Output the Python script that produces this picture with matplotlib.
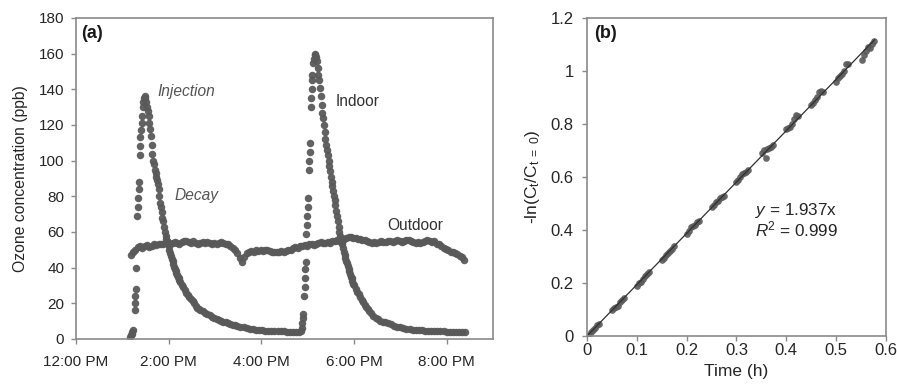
import numpy as np
import matplotlib
matplotlib.use("Agg")
import matplotlib.pyplot as plt
from matplotlib.ticker import FormatStrFormatter

plt.rcParams['font.family'] = ['Liberation Sans', 'DejaVu Sans']
plt.rcParams['mathtext.fontset'] = 'custom'
plt.rcParams['mathtext.rm'] = 'Liberation Sans'
plt.rcParams['mathtext.it'] = 'Liberation Sans:italic'

# ---------------- Panel (a) data: minutes after 12:00 PM, ozone (ppb) ----------------
indoor_min = [
    70, 71, 72, 73, 74, 76, 76.5, 77, 77.5, 78, 79.5, 80, 80.5, 81, 81.5,
    82.5, 83, 83.5, 84.5, 85, 85.5, 86.5, 87, 88, 89, 90,
    91, 92, 93, 94, 95, 96, 97, 98, 99, 100, 101, 102, 103, 104, 105, 106, 107, 108, 109, 110,
    111, 112, 113, 114, 115, 116, 117, 118, 119, 120, 121, 122, 123, 124, 125, 126, 127, 128,
    129, 130, 131, 132, 133, 134, 135, 137, 139, 141, 143, 145, 147, 149, 151, 153, 155, 157,
    159, 161, 164, 167, 170, 173, 176, 179, 182, 185, 188, 191, 194, 197, 200, 203, 206, 209,
    213, 217, 221, 225, 229, 233, 237, 241, 245, 249, 253, 257, 261, 265, 269, 273, 277, 281,
    285, 289, 292,
    292.5, 293, 293.5, 294, 295.5, 296, 296.5, 297, 297.5, 298.5, 299, 299.5, 300, 300.5,
    301.5, 302, 302.5, 303, 304, 304.5, 305, 305.5, 306,
    307, 308, 309, 310, 311, 312, 313,
    314, 315, 316, 317, 318, 319, 320, 321, 322, 323, 324, 325, 326, 327, 328, 329, 330, 331,
    332, 333, 334, 335, 336, 337, 338, 339, 340, 341, 342, 343, 344, 345, 346, 347, 348, 349,
    350, 351, 352, 353, 354, 355, 356, 357, 358, 359, 360, 362, 364, 366, 368, 370, 372, 374,
    376, 378, 380, 382, 385, 388, 391, 394, 397, 400, 404, 408, 412, 416, 420, 424, 428, 432,
    436, 440, 444, 448, 452, 456, 460, 464, 468, 472, 476, 480, 484, 488, 492, 496, 500, 504,
]
indoor_ppb = [
    1, 2, 3, 4, 5, 16, 20, 24, 28, 40, 69, 74, 79, 84, 88,
    103, 108, 113, 117, 121, 125, 130, 133, 135, 136, 135,
    133, 130, 128, 125, 121, 118, 114, 109, 104, 100, 98, 95, 93, 91, 89, 87, 84, 80, 76, 74,
    71, 68, 66, 63, 60, 58, 56, 55, 54, 52, 50, 48, 46.5, 45, 43.5, 42, 40.5, 39,
    38, 37, 36, 35, 34, 33, 32, 30.5, 29, 27.5, 26, 24.5, 23.5, 22.5, 21.5, 20, 18.5, 17.5,
    17, 16.5, 15.5, 14.8, 14, 13.2, 12.5, 11.8, 11.2, 10.7, 10.2, 9.7, 9.3, 8.9, 8.5, 8.1, 7.6, 7.3,
    6.9, 6.5, 6.1, 5.8, 5.5, 5.2, 5, 4.9, 4.7, 4.6, 4.5, 4.4, 4.3, 4.2, 4.2, 4.1, 4.1, 4,
    4.1, 4, 4.3,
    6, 9, 12, 14, 24, 29, 34, 39, 43, 59, 64, 69, 74, 79,
    95, 100, 105, 110, 130, 135, 140, 145, 148,
    155, 157, 159, 160, 158, 156, 152,
    148, 145, 141, 136, 131, 127, 124, 120, 116, 112, 109, 106, 103, 100, 97, 94, 91, 88,
    86, 83, 80, 78, 75, 72, 69, 66, 63, 60, 58, 56, 54.5, 53, 51, 49, 47, 45.5,
    44, 42.5, 41, 39.5, 38, 36.5, 35, 34, 32.5, 31, 30, 28, 26.5, 25, 23.5, 22, 20.5, 19,
    18, 17, 15.5, 14.5, 13, 12, 11, 10.3, 9.8, 9.4, 9, 8.2, 7.5, 7, 6.5, 6.1, 5.8, 5.5,
    5.3, 5.1, 5, 4.8, 4.7, 4.6, 4.5, 4.5, 4.4, 4.2, 4.2, 4.1, 4, 4, 3.9, 3.8, 3.8, 3.7,
]

outdoor_readings = [
    (71, 47), (74, 49), (77, 50), (80, 51.5), (83, 52), (86, 51), (89, 52), (92, 52.5),
    (95, 51.5), (98, 52), (101, 53), (104, 52.5), (107, 53), (110, 53.5), (113, 53), (116, 54),
    (119, 54.5), (122, 53.5), (125, 54), (128, 54.5), (131, 54), (134, 53.5), (137, 54.5),
    (140, 55), (143, 55), (146, 54.5), (149, 54), (152, 55), (155, 54), (158, 53.5), (161, 54),
    (164, 54.5), (167, 54), (170, 54.5), (173, 54), (176, 53.5), (179, 54), (182, 53.5),
    (185, 54), (188, 54.5), (191, 54), (194, 53.5), (197, 53), (200, 52), (203, 51), (206, 50),
    (209, 48), (212, 45.5), (215, 43), (218, 46), (221, 48), (224, 49), (227, 49.5), (230, 49),
    (233, 50), (236, 49.5), (239, 50), (242, 49.5), (245, 50), (248, 50), (251, 49.5), (254, 49),
    (257, 49), (260, 48.5), (263, 49), (266, 49.5), (269, 49), (272, 49.5), (275, 50), (278, 50),
    (281, 51), (284, 51.5), (287, 51), (290, 52), (293, 52), (296, 52.5), (299, 52), (302, 53),
    (305, 53), (308, 52.5), (311, 53.5), (314, 54), (317, 54.5), (320, 54), (323, 54),
    (326, 54.5), (329, 54), (332, 55), (335, 55), (338, 55.5), (341, 55), (344, 55.5), (347, 56),
    (350, 56.5), (353, 57), (356, 57), (359, 56.5), (362, 56.5), (365, 56), (368, 56),
    (371, 55.5), (374, 55.5), (377, 55), (380, 54.5), (383, 54), (386, 54.5), (389, 54),
    (392, 54.5), (395, 55), (398, 54.5), (401, 54.5), (404, 55), (407, 55), (410, 54.5),
    (413, 55), (416, 55.5), (419, 55), (422, 54.5), (425, 55), (428, 55.5), (431, 55.5),
    (434, 55), (437, 54.5), (440, 54), (443, 54.5), (446, 54), (449, 54.5), (452, 55),
    (455, 55.5), (458, 55), (461, 54.5), (464, 55), (467, 53.5), (470, 53), (473, 52), (476, 51),
    (479, 50.5), (482, 50), (485, 49), (488, 48.5), (491, 48), (494, 47.5), (497, 46.5),
    (500, 46), (503, 44.5),
]

a_xticks = [12, 14, 16, 18, 20]
a_xticklabels = ["12:00 PM", "2:00 PM", "4:00 PM", "6:00 PM", "8:00 PM"]
a_yticks = [0, 20, 40, 60, 80, 100, 120, 140, 160, 180]

# ---------------- Panel (b) data: time (h), -ln(Ct/Ct=0) ----------------
b_time = [
    0.0, 0.004, 0.008, 0.012, 0.016, 0.02, 0.024,
    0.05, 0.054, 0.058, 0.062, 0.066, 0.07, 0.074,
    0.1, 0.104, 0.108, 0.112, 0.116, 0.12, 0.124,
    0.15, 0.154, 0.158, 0.162, 0.166, 0.17, 0.174,
    0.2, 0.204, 0.208, 0.212, 0.216, 0.22, 0.224,
    0.25, 0.254, 0.258, 0.262, 0.266, 0.27, 0.274,
    0.3, 0.304, 0.308, 0.312, 0.316, 0.32, 0.324,
    0.352, 0.356, 0.36, 0.362, 0.366, 0.37, 0.374,
    0.4, 0.404, 0.408, 0.412, 0.416, 0.42, 0.424,
    0.45, 0.454, 0.458, 0.462, 0.466, 0.47, 0.474,
    0.5, 0.504, 0.508, 0.512, 0.516, 0.52, 0.524,
    0.552, 0.556, 0.56, 0.564, 0.568, 0.572, 0.576,
]
b_lnratio = [
    0.0, 0.005, 0.015, 0.022, 0.03, 0.04, 0.045,
    0.10, 0.105, 0.11, 0.115, 0.13, 0.135, 0.145,
    0.19, 0.2, 0.205, 0.215, 0.225, 0.235, 0.24,
    0.285, 0.295, 0.305, 0.315, 0.32, 0.33, 0.34,
    0.385, 0.395, 0.41, 0.415, 0.42, 0.43, 0.435,
    0.485, 0.495, 0.505, 0.51, 0.52, 0.525, 0.53,
    0.58, 0.59, 0.6, 0.61, 0.615, 0.62, 0.625,
    0.69, 0.70, 0.67, 0.705, 0.71, 0.715, 0.72,
    0.78, 0.785, 0.79, 0.80, 0.82, 0.835, 0.83,
    0.87, 0.88, 0.89, 0.90, 0.92, 0.925, 0.92,
    0.96, 0.975, 0.98, 0.99, 1.0, 1.025, 1.025,
    1.04, 1.06, 1.075, 1.09, 1.085, 1.10, 1.115,
]
fit_slope = 1.937
fit_r2 = 0.999
fit_xrange = [0.0, 0.577]

# ---------------- Figure ----------------
dot = '#595959'
spine_c = '#8a8a8a'
txt = '#262626'

fig = plt.figure(figsize=(8.97, 3.86), dpi=100)
axa = fig.add_axes([0.0847, 0.1218, 0.4649, 0.8316])
axb = fig.add_axes([0.6544, 0.1295, 0.3333, 0.8239])

# Panel (a)
t_in = 12 + np.array(indoor_min) / 60.0
out_arr = np.array(outdoor_readings, dtype=float)
t_out = 12 + out_arr[:, 0] / 60.0
axa.plot(t_out, out_arr[:, 1], 'o', ms=5.4, color=dot, mew=0, alpha=0.95)
axa.plot(t_in, indoor_ppb, 'o', ms=5.4, color=dot, mew=0, alpha=0.95)
axa.set_xlim(12, 21)
axa.set_ylim(0, 180)
axa.set_xticks(a_xticks)
axa.set_xticklabels(a_xticklabels)
axa.set_yticks(a_yticks)
axa.set_ylabel("Ozone concentration (ppb)", fontsize=11.3, color=txt, labelpad=8)
axa.text(0.013, 0.952, "(a)", transform=axa.transAxes, fontsize=13, fontweight='bold',
         color='#1a1a1a', ha='left', va='center')
axa.text(13.753, 138.5, "Injection", fontsize=11.2, style='italic', color='#555555', ha='left', va='center')
axa.text(14.121, 80.2, "Decay", fontsize=11.2, style='italic', color='#555555', ha='left', va='center')
axa.text(17.606, 132.9, "Indoor", fontsize=11.2, color='#333333', ha='left', va='center')
axa.text(18.71, 63.9, "Outdoor", fontsize=11.2, color='#333333', ha='left', va='center')

# Panel (b)
axb.plot(b_time, b_lnratio, 'o', ms=4.8, color=dot, mew=0, alpha=0.9)
fx = np.array(fit_xrange)
axb.plot(fx, fit_slope * fx, '-', color='#303030', lw=0.9)
axb.set_xlim(0, 0.6)
axb.set_ylim(0, 1.2)
axb.set_xticks([0, 0.1, 0.2, 0.3, 0.4, 0.5, 0.6])
axb.set_yticks([0, 0.2, 0.4, 0.6, 0.8, 1.0, 1.2])
axb.xaxis.set_major_formatter(FormatStrFormatter('%g'))
axb.yaxis.set_major_formatter(FormatStrFormatter('%g'))
axb.set_xlabel("Time (h)", fontsize=12.5, color=txt, labelpad=4)
axb.set_ylabel(r"-ln(C$_\mathregular{t}$/C$_\mathregular{t\ =\ 0}$)", fontsize=12.5, color=txt, labelpad=6)
axb.text(0.025, 0.952, "(b)", transform=axb.transAxes, fontsize=13, fontweight='bold',
         color='#1a1a1a', ha='left', va='center')
axb.text(0.337, 0.437, "$y$ = %.3fx\n$R$$^\\mathregular{2}$ = %.3f" % (fit_slope, fit_r2),
         fontsize=12.3, color=txt, ha='left', va='center', linespacing=0.95)

for ax in (axa, axb):
    for s in ax.spines.values():
        s.set_color(spine_c)
        s.set_linewidth(1.2)
axa.tick_params(direction='out', length=3.5, width=1.0, color=spine_c,
                labelsize=11, labelcolor=txt)
axa.tick_params(axis='x', pad=8)
axa.tick_params(axis='y', pad=5)
axb.tick_params(direction='out', length=3.5, width=1.0, color=spine_c,
                labelsize=12, labelcolor=txt)
axb.tick_params(axis='x', pad=1.5)
axb.tick_params(axis='y', pad=6)

fig.savefig("out.png", dpi=100)
